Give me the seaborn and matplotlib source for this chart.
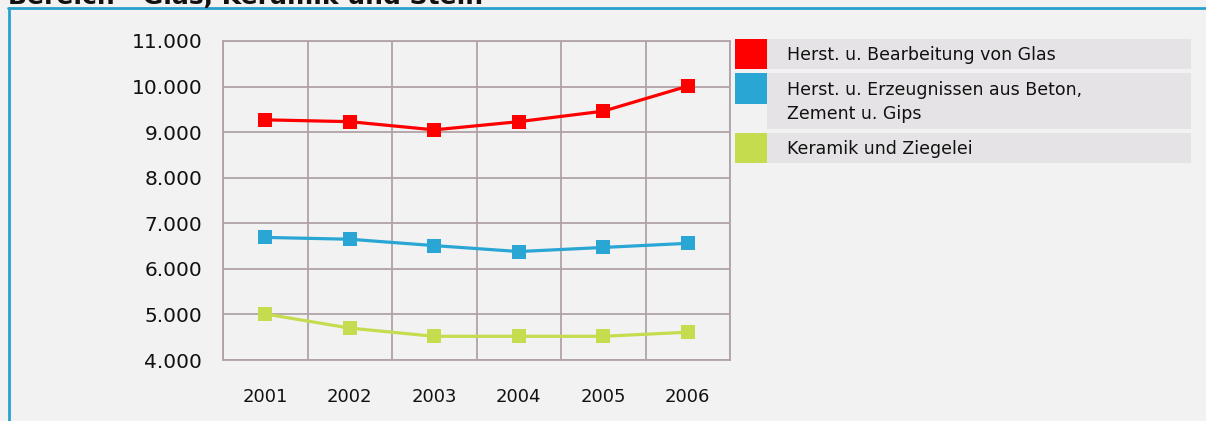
import pandas as pd
import seaborn as sns
import matplotlib.pyplot as plt
from matplotlib.patches import Rectangle
from matplotlib.lines import Line2D
from matplotlib.ticker import FuncFormatter

# Daten
years = [2001, 2002, 2003, 2004, 2005, 2006]
glas = [9270, 9230, 9050, 9230, 9460, 10010]
beton = [6690, 6650, 6510, 6380, 6470, 6560]
keramik = [5010, 4700, 4520, 4520, 4520, 4610]
series_names = [
    "Herst. u. Bearbeitung von Glas",
    "Herst. u. Erzeugnissen aus Beton,\nZement u. Gips",
    "Keramik und Ziegelei",
]
colors = ["#ff0000", "#29a6d3", "#c4dc4e"]
y_ticks = [4000, 5000, 6000, 7000, 8000, 9000, 10000, 11000]
title = "Bereich - Glas, Keramik und Stein"

W, H = 1206, 421
BG = "#f2f2f2"
GRID = "#b0a3a8"


def fx(x):
    return x / W


def fy(y):
    return 1 - y / H


df = pd.DataFrame({
    "Jahr": years * 3,
    "Wert": glas + beton + keramik,
    "Reihe": [series_names[0]] * 6 + [series_names[1]] * 6 + [series_names[2]] * 6,
})

sns.set_style("white", {"axes.facecolor": BG, "figure.facecolor": BG})
plt.rcParams["font.family"] = ["DejaVu Sans"]

fig = plt.figure(figsize=(W / 100, H / 100), dpi=100)
ax = fig.add_axes([fx(223), fy(360), fx(730) - fx(223), fy(41) - fy(360)])

sns.lineplot(
    data=df, x="Jahr", y="Wert", hue="Reihe",
    palette=dict(zip(series_names, colors)),
    marker="s", markersize=9.5, markeredgewidth=0,
    linewidth=2.3, legend=False, sort=False, ax=ax,
)

ax.set_xlim(2000.5, 2006.5)
ax.set_ylim(4000, 11000)
ax.set_xlabel("")
ax.set_ylabel("")

ax.set_xticks(years)
ax.set_xticks([y + 0.5 for y in [2000] + years], minor=True)
ax.set_yticks(y_ticks)
ax.yaxis.set_major_formatter(FuncFormatter(lambda v, p: f"{v:,.0f}".replace(",", ".")))

ax.tick_params(axis="x", which="major", length=0, pad=20, labelsize=13, labelcolor="#111111")
ax.tick_params(axis="x", which="minor", length=6, width=1.3, color=GRID)
ax.tick_params(axis="y", which="major", length=6, width=1.3, color=GRID, pad=9,
               labelsize=14.5, labelcolor="#111111")

ax.grid(False)
ax.yaxis.grid(True, which="major", color=GRID, linewidth=1.3)
ax.xaxis.grid(True, which="minor", color=GRID, linewidth=1.3)
ax.set_axisbelow(True)
for s in ax.spines.values():
    s.set_visible(True)
    s.set_color(GRID)
    s.set_linewidth(1.3)

# Legende als Kästchen
rows = [(39, 69, 69), (73, 104, 129), (133, 163, 163)]
for name, col, (top, sw_bot, bg_bot) in zip(series_names, colors, rows):
    fig.add_artist(Rectangle((fx(767), fy(bg_bot)), fx(1191) - fx(767), fy(top) - fy(bg_bot),
                             transform=fig.transFigure, facecolor="#e5e3e5", edgecolor="none"))
    fig.add_artist(Rectangle((fx(735), fy(sw_bot)), fx(767) - fx(735), fy(top) - fy(sw_bot),
                             transform=fig.transFigure, facecolor=col, edgecolor="none"))
    fig.text(fx(787), fy((top + bg_bot) / 2 + 1), name, fontsize=12.5, va="center", ha="left",
             color="#111111", linespacing=1.4)

# Rahmen und (wie im Original oben angeschnittener) Titel
fig.add_artist(Line2D([fx(8), 1], [fy(8), fy(8)], transform=fig.transFigure, color="#29a1cf", linewidth=2))
fig.add_artist(Line2D([fx(9), fx(9)], [fy(8), 0], transform=fig.transFigure, color="#29a1cf", linewidth=2))
fig.text(fx(8), fy(4), title, fontsize=18, fontweight="bold", va="baseline", ha="left", color="#111111")

fig.savefig("out.png", dpi=100, facecolor=BG)
